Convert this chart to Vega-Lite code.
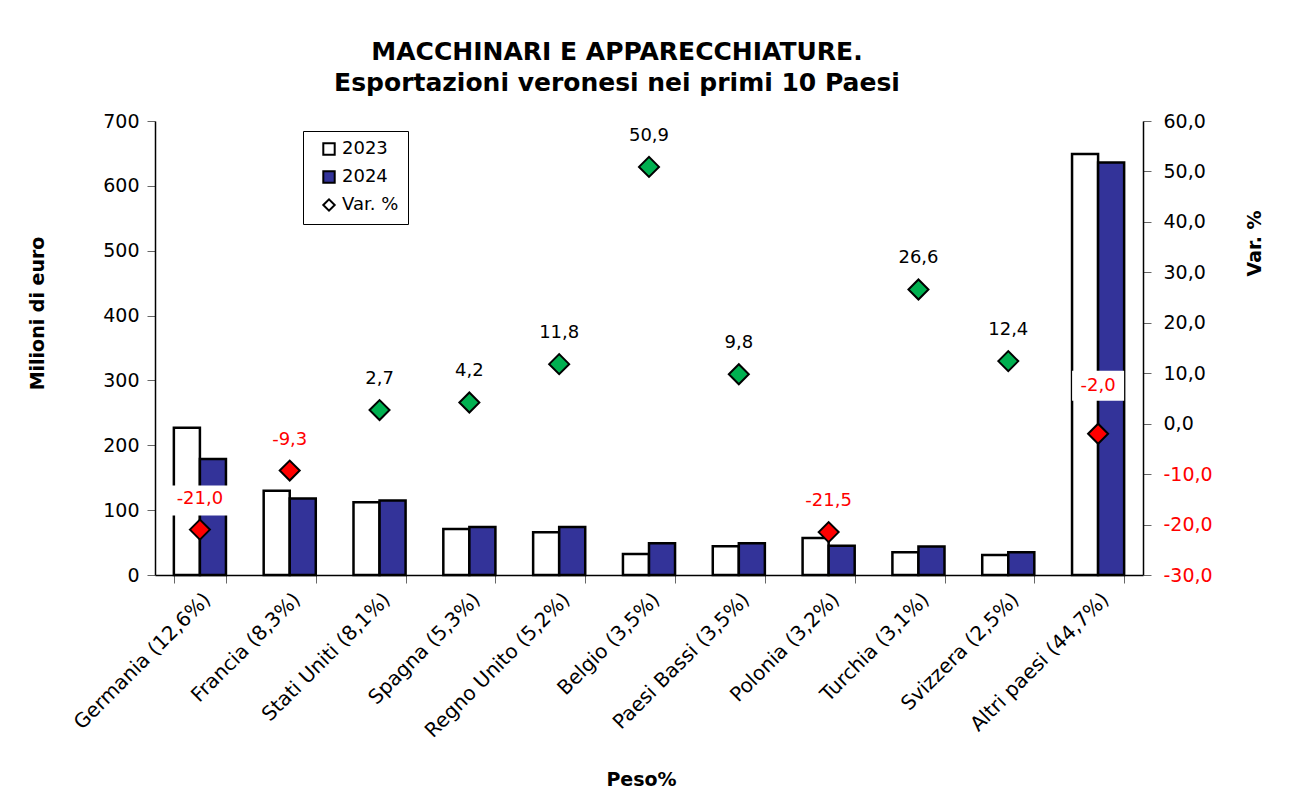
{
  "$schema": "https://vega.github.io/schema/vega-lite/v6.json",
  "width": 988,
  "height": 454,
  "autosize": {"type": "none"},
  "padding": {"left": 155, "top": 121, "right": 148, "bottom": 234},
  "background": "white",
  "title": {
    "text": ["MACCHINARI E APPARECCHIATURE.", "Esportazioni veronesi nei primi 10 Paesi"],
    "fontSize": 25,
    "fontWeight": "bold",
    "color": "black",
    "anchor": "middle",
    "dx": -32,
    "lineHeight": 31,
    "offset": 16
  },
  "config": {
    "font": "DejaVu Sans",
    "view": {"stroke": null},
    "locale": {
      "number": {"decimal": ",", "thousands": ".", "grouping": [3], "currency": ["", " €"], "minus": "-"}
    }
  },
  "datasets": {
    "bars": [
      {"Paese": "Germania (12,6%)", "Anno": "2023", "Valore": 227},
      {"Paese": "Germania (12,6%)", "Anno": "2024", "Valore": 179},
      {"Paese": "Francia (8,3%)", "Anno": "2023", "Valore": 130},
      {"Paese": "Francia (8,3%)", "Anno": "2024", "Valore": 118},
      {"Paese": "Stati Uniti (8,1%)", "Anno": "2023", "Valore": 112},
      {"Paese": "Stati Uniti (8,1%)", "Anno": "2024", "Valore": 115},
      {"Paese": "Spagna (5,3%)", "Anno": "2023", "Valore": 71},
      {"Paese": "Spagna (5,3%)", "Anno": "2024", "Valore": 74},
      {"Paese": "Regno Unito (5,2%)", "Anno": "2023", "Valore": 66},
      {"Paese": "Regno Unito (5,2%)", "Anno": "2024", "Valore": 74},
      {"Paese": "Belgio (3,5%)", "Anno": "2023", "Valore": 32.5},
      {"Paese": "Belgio (3,5%)", "Anno": "2024", "Valore": 49},
      {"Paese": "Paesi Bassi (3,5%)", "Anno": "2023", "Valore": 44.5},
      {"Paese": "Paesi Bassi (3,5%)", "Anno": "2024", "Valore": 49},
      {"Paese": "Polonia (3,2%)", "Anno": "2023", "Valore": 57},
      {"Paese": "Polonia (3,2%)", "Anno": "2024", "Valore": 45},
      {"Paese": "Turchia (3,1%)", "Anno": "2023", "Valore": 35},
      {"Paese": "Turchia (3,1%)", "Anno": "2024", "Valore": 44},
      {"Paese": "Svizzera (2,5%)", "Anno": "2023", "Valore": 31},
      {"Paese": "Svizzera (2,5%)", "Anno": "2024", "Valore": 35},
      {"Paese": "Altri paesi (44,7%)", "Anno": "2023", "Valore": 649},
      {"Paese": "Altri paesi (44,7%)", "Anno": "2024", "Valore": 636}
    ],
    "var": [
      {"Paese": "Germania (12,6%)", "Var": -21.0},
      {"Paese": "Francia (8,3%)", "Var": -9.3},
      {"Paese": "Stati Uniti (8,1%)", "Var": 2.7},
      {"Paese": "Spagna (5,3%)", "Var": 4.2},
      {"Paese": "Regno Unito (5,2%)", "Var": 11.8},
      {"Paese": "Belgio (3,5%)", "Var": 50.9},
      {"Paese": "Paesi Bassi (3,5%)", "Var": 9.8},
      {"Paese": "Polonia (3,2%)", "Var": -21.5},
      {"Paese": "Turchia (3,1%)", "Var": 26.6},
      {"Paese": "Svizzera (2,5%)", "Var": 12.4},
      {"Paese": "Altri paesi (44,7%)", "Var": -2.0}
    ]
  },
  "layer": [
    {
      "data": {"name": "bars"},
      "mark": {"type": "bar", "stroke": "black", "strokeWidth": 2.5},
      "encoding": {
        "x": {
          "field": "Paese",
          "type": "nominal",
          "sort": null,
          "scale": {"paddingInner": 0.42, "paddingOuter": 0.21},
          "axis": {
            "title": "Peso%",
            "titleFontSize": 19,
            "titleFontWeight": "bold",
            "titleColor": "black",
            "titleBaseline": "middle",
            "titleX": 486,
            "titleY": 204,
            "labelAngle": -45,
            "labelFontSize": 20,
            "labelLimit": 400,
            "labelColor": "black",
            "labelPadding": 6,
            "domainColor": "black",
            "domainWidth": 1.5,
            "tickColor": "#666666",
            "tickSize": 8,
            "tickBand": "extent"
          }
        },
        "xOffset": {"field": "Anno", "type": "nominal", "scale": {"paddingInner": 0, "paddingOuter": 0}},
        "y": {
          "field": "Valore",
          "type": "quantitative",
          "scale": {"domain": [0, 700], "nice": false},
          "axis": {
            "title": "Milioni di euro",
            "titleFontSize": 19,
            "titleFontWeight": "bold",
            "titleColor": "black",
            "titleBaseline": "middle",
            "titleX": -118,
            "titleY": 192,
            "values": [0, 100, 200, 300, 400, 500, 600, 700],
            "labelFontSize": 19,
            "labelColor": "black",
            "labelPadding": 8,
            "tickSize": 8,
            "tickColor": "#666666",
            "domainColor": "black",
            "domainWidth": 1.5,
            "grid": false
          }
        },
        "fill": {
          "field": "Anno",
          "type": "nominal",
          "scale": {"domain": ["2023", "2024", "Var. %"], "range": ["#ffffff", "#333399", "#ffffff"]},
          "legend": {
            "orient": "none",
            "legendX": 148,
            "legendY": 10,
            "title": null,
            "fillColor": "white",
            "strokeColor": "black",
            "padding": 9,
            "labelFontSize": 18,
            "labelColor": "black",
            "labelOffset": 4,
            "symbolSize": 130,
            "symbolType": "square",
            "symbolStrokeColor": "black",
            "symbolStrokeWidth": 2,
            "symbolOffset": 8,
            "rowPadding": 8,
            "encode": {
              "symbols": {
                "update": {
                  "shape": {"signal": "datum.value === 'Var. %' ? 'diamond' : 'square'"}
                }
              }
            }
          }
        }
      }
    },
    {
      "data": {"name": "var"},
      "encoding": {
        "x": {"field": "Paese", "type": "nominal", "sort": null},
        "y": {
          "field": "Var",
          "type": "quantitative",
          "scale": {"domain": [-30, 60], "nice": false},
          "axis": {
            "orient": "right",
            "title": "Var. %",
            "titleFontSize": 19,
            "titleFontWeight": "bold",
            "titleColor": "black",
            "titleAngle": 270,
            "titleBaseline": "middle",
            "titleX": 111,
            "titleY": 122,
            "values": [-30, -20, -10, 0, 10, 20, 30, 40, 50, 60],
            "format": ".1f",
            "labelFontSize": 19,
            "labelColor": {"condition": {"test": "datum.value < 0", "value": "#ff0000"}, "value": "black"},
            "labelPadding": 12,
            "tickSize": 8,
            "tickColor": "#666666",
            "domainColor": "black",
            "domainWidth": 1.5,
            "grid": false
          }
        }
      },
      "layer": [
        {
          "transform": [{"filter": "datum.Var < 0 && datum.Paese != 'Altri paesi (44,7%)'"}],
          "mark": {
            "type": "point",
            "shape": "M -3 -4.4 L 3 -4.4 L 3 -1.4 L -3 -1.4 Z",
            "size": 400,
            "filled": true,
            "fill": "white",
            "opacity": 1,
            "strokeWidth": 0
          }
        },
        {
          "transform": [{"filter": "datum.Paese == 'Altri paesi (44,7%)'"}],
          "mark": {
            "type": "point",
            "shape": "M -2.6 -6.3 L 2.6 -6.3 L 2.6 -3.3 L -2.6 -3.3 Z",
            "size": 400,
            "filled": true,
            "fill": "white",
            "opacity": 1,
            "strokeWidth": 0
          }
        },
        {
          "mark": {
            "type": "point",
            "shape": "diamond",
            "size": 400,
            "filled": true,
            "opacity": 1,
            "stroke": "black",
            "strokeWidth": 2
          },
          "encoding": {
            "fill": {"condition": {"test": "datum.Var < 0", "value": "#ff0000"}, "value": "#00b050"}
          }
        },
        {
          "transform": [{"filter": "datum.Paese != 'Altri paesi (44,7%)'"}],
          "mark": {"type": "text", "dy": -31, "baseline": "middle", "fontSize": 18},
          "encoding": {
            "text": {"field": "Var", "type": "quantitative", "format": ".1f"},
            "color": {"condition": {"test": "datum.Var < 0", "value": "#ff0000"}, "value": "black"}
          }
        },
        {
          "transform": [{"filter": "datum.Paese == 'Altri paesi (44,7%)'"}],
          "mark": {"type": "text", "dy": -48, "baseline": "middle", "fontSize": 18},
          "encoding": {
            "text": {"field": "Var", "type": "quantitative", "format": ".1f"},
            "color": {"condition": {"test": "datum.Var < 0", "value": "#ff0000"}, "value": "black"}
          }
        }
      ]
    }
  ],
  "resolve": {"scale": {"y": "independent"}}
}
